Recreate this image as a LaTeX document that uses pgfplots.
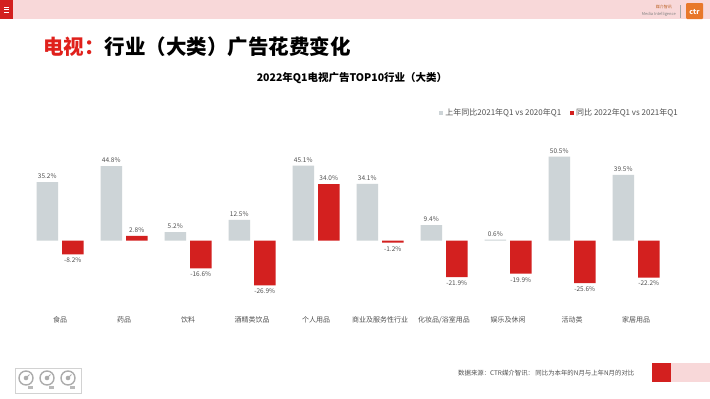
\documentclass[border=0pt]{standalone}
\usepackage{fontspec}
\setmainfont{Noto Sans CJK SC}
\usepackage{pgfplots}
\pgfplotsset{compat=1.18}
\definecolor{barGray}{HTML}{CDD4D7}
\definecolor{barRed}{HTML}{D3201F}
\definecolor{pinkBand}{HTML}{F8D8D9}
\definecolor{txtGray}{HTML}{505050}
\definecolor{titleRed}{HTML}{E0201B}
\definecolor{ctrOrange}{HTML}{E8782A}
\begin{document}
\begin{tikzpicture}
% canvas
\fill[white] (0pt,0pt) rectangle (710pt,-399pt);
\useasboundingbox (0pt,0pt) rectangle (710pt,-399pt);
% top band
\fill[pinkBand] (0pt,0pt) rectangle (710pt,-19pt);
\fill[barRed] (0pt,0pt) rectangle (13pt,-19pt);
\foreach \yy in {7,9.5,12} {\draw[white,line width=0.6pt] (4pt,-\yy pt) -- (9pt,-\yy pt);}
% logo
\node[anchor=east,inner sep=0pt,text=ctrOrange!80!black,font=\fontsize{4}{4}\selectfont] at (672pt,-7pt) {媒介智讯};
\node[anchor=east,inner sep=0pt,text=gray,font=\fontsize{4}{4}\selectfont] at (676pt,-14pt) {Media Intelligence};
\draw[gray!70,line width=0.4pt] (680pt,-5pt) -- (680pt,-18pt);
\fill[ctrOrange,rounded corners=1pt] (686pt,-3pt) rectangle (703pt,-19pt);
\node[text=white,inner sep=0pt,font=\bfseries\fontsize{7}{7}\selectfont] at (694.5pt,-12pt) {ctr};
% main title
\node[anchor=west,inner sep=0pt,font=\bfseries\fontsize{20.5}{22}\selectfont] at (43pt,-47pt) {\textcolor{titleRed}{电视：}行业（大类）广告花费变化};
% chart title
\node[inner sep=0pt,font=\bfseries\fontsize{10.5}{12}\selectfont] at (352pt,-78pt) {2022年Q1电视广告TOP10行业（大类）};
% footer
\node[anchor=west,inner sep=0pt,text=txtGray,font=\fontsize{6.4}{7}\selectfont] at (458pt,-373pt) {数据来源：CTR媒介智讯： 同比为本年的N月与上年N月的对比};
\fill[barRed] (652pt,-363pt) rectangle (671pt,-382pt);
\fill[pinkBand] (671pt,-363pt) rectangle (710pt,-382pt);
% bottom-left icons
\draw[gray!35,line width=0.5pt] (15pt,-368pt) rectangle (81pt,-393pt);
\foreach \cx in {26,47,68} {
  \draw[gray!65,line width=1.4pt] (\cx pt,-378pt) circle (7pt);
  \fill[gray!65] (\cx pt,-378pt) circle (2.3pt);
  \draw[gray!65,line width=1pt] (\cx pt,-378pt) -- ++(3.5pt,3.5pt);
  \fill[gray!55] (\cx pt+2pt,-386pt) rectangle (\cx pt+7pt,-389pt);
}
\begin{axis}[
  at={(28pt,-149.2pt)}, anchor=north west,
  scale only axis, width=640pt, height=161.3pt,
  xmin=-0.5, xmax=9.5, ymin=-42, ymax=55,
  axis line style={draw=none}, tick style={draw=none},
  ytick=\empty,
  xtick={0,...,9},
  xticklabels={食品,药品,饮料,酒精类饮品,个人用品,商业及服务性行业,化妆品/浴室用品,娱乐及休闲,活动类,家居用品},
  xticklabel style={font=\fontsize{7}{8}\selectfont, text=txtGray, yshift=2pt},
  ybar=4pt, bar width=21.5pt,
  point meta=y,
  nodes near coords={\pgfmathprintnumber[fixed,fixed zerofill,precision=1,assume math mode=true]{\pgfplotspointmeta}\%},
  nodes near coords align={vertical},
  nodes near coords style={font=\fontsize{6.5}{7}\selectfont, text=txtGray},
  legend columns=2,
  legend style={at={(1.01875,1.2244)}, anchor=east, draw=none, fill=none, inner sep=0pt,
    font=\fontsize{8}{9}\selectfont, text=txtGray,
    /tikz/every even column/.append style={column sep=7pt}},
  legend image code/.code={\path[#1] (0pt,-2pt) rectangle (4pt,2pt);},
  clip=false,
]
\addplot[fill=barGray, draw=none] coordinates {
  (0,35.2) (1,44.8) (2,5.2) (3,12.5) (4,45.1)
  (5,34.1) (6,9.4) (7,0.6) (8,50.5) (9,39.5)
};
\addlegendentry{上年同比2021年Q1 vs 2020年Q1}
\addplot[fill=barRed, draw=none] coordinates {
  (0,-8.2) (1,2.8) (2,-16.6) (3,-26.9) (4,34.0)
  (5,-1.2) (6,-21.9) (7,-19.9) (8,-25.6) (9,-22.2)
};
\addlegendentry{同比 2022年Q1 vs 2021年Q1}
\end{axis}
\end{tikzpicture}
\end{document}
